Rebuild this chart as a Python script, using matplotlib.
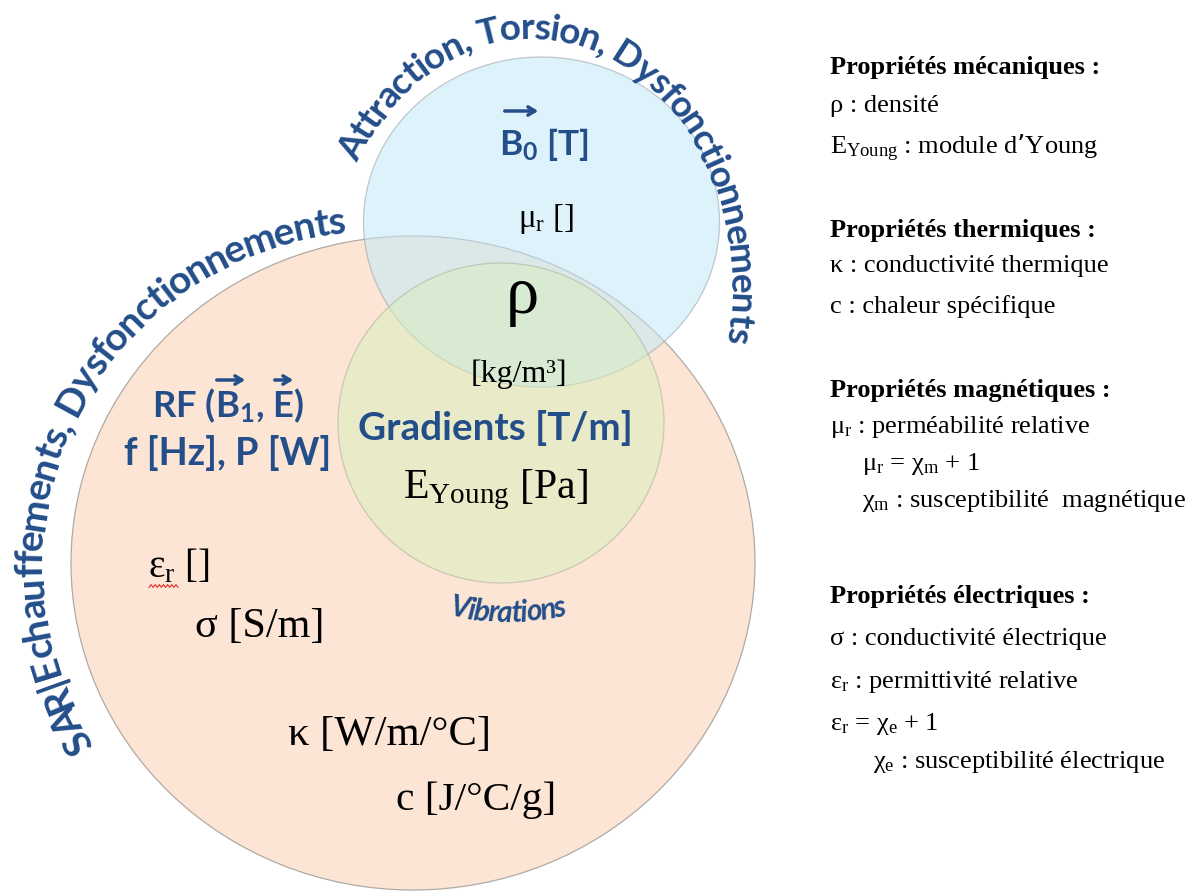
import numpy as np
import matplotlib.pyplot as plt
from matplotlib.patches import Ellipse
from matplotlib.font_manager import FontProperties

# --- texts -------------------------------------------------------------
arc_top = "Attraction, Torsion, Dysfonctionnements"
arc_left = "SAR|Echauffements, Dysfonctionnements"
arc_bottom = "Vibrations"

blue_labels = [r"$\mathregular{B_0}$ [T]", "Gradients [T/m]",
               r"RF ($\mathregular{B_1}$, E)", "f [Hz], P [W]"]
serif_labels = [r"$\mathregular{μ_r}$ []", "ρ", "[kg/m³]",
                r"$\mathregular{E_{Young}}$ [Pa]", r"$\mathregular{ε_r}$ []",
                "σ [S/m]", "κ [W/m/°C]", "c [J/°C/g]"]

legend_titles = ["Propriétés mécaniques :", "Propriétés thermiques :",
                 "Propriétés magnétiques :", "Propriétés électriques :"]
legend_lines = [
    ["ρ : densité", r"$\mathregular{E_{Young}}$ : module d’Young"],
    ["κ : conductivité thermique", "c : chaleur spécifique"],
    [r"$\mathregular{μ_r}$ : perméabilité relative",
     r"$\mathregular{μ_r}$ = $\mathregular{χ_m}$ + 1",
     r"$\mathregular{χ_m}$ : susceptibilité  magnétique"],
    ["σ : conductivité électrique", r"$\mathregular{ε_r}$ : permittivité relative",
     r"$\mathregular{ε_r}$ = $\mathregular{χ_e}$ + 1",
     r"$\mathregular{χ_e}$ : susceptibilité électrique"],
]

BLUE = '#234e8a'
SERIF = 'Liberation Serif'

fig = plt.figure(figsize=(11.92, 8.92), dpi=100)
ax = fig.add_axes([0, 0, 1, 1])
ax.set_xlim(0, 1192)
ax.set_ylim(892, 0)
ax.axis('off')
renderer = fig.canvas.get_renderer()

# circles
ax.add_patch(Ellipse((413, 563), 684, 654, facecolor='#fce5d4', edgecolor='#b0aaa4', lw=0.9))
ax.add_patch(Ellipse((541.5, 222), 356, 330, facecolor='#c2e9f8', alpha=0.55,
                     edgecolor='#95a0a4', lw=0.9))
ax.add_patch(Ellipse((501, 423), 326, 320, facecolor='#d6efbe', alpha=0.5,
                     edgecolor='#a4a894', lw=0.9))


def text_w(s, prop):
    return renderer.get_text_width_height_descent(s, prop, ismath=False)[0]


def arc_text(s, cx, cy, rx, ry, t0, t1, grow=1.0, **kw):
    prop = FontProperties(size=10, **kw)
    tt = np.radians(np.linspace(t0, t1, 3000))
    px = cx + rx * np.cos(tt)
    py = cy - ry * np.sin(tt)
    L = np.concatenate([[0], np.cumsum(np.hypot(np.diff(px), np.diff(py)))])
    size = 10 * L[-1] / text_w(s, prop)
    prop.set_size(size)
    draw = prop.copy()
    draw.set_size(size * grow)
    sgn = np.sign(t1 - t0)
    for i, c in enumerate(s):
        if c == ' ':
            continue
        d = text_w(s[:i + 1], prop) - text_w(c, prop) / 2
        t = np.interp(d, L, tt)
        dx = -rx * np.sin(t) * sgn
        dy = ry * np.cos(t) * sgn
        rot = np.degrees(np.arctan2(dy, dx))
        ax.text(cx + rx * np.cos(t), cy - ry * np.sin(t), c, fontproperties=draw,
                color=BLUE, ha='center', va='baseline', rotation=rot,
                rotation_mode='anchor')


def fit_text(x0, x1, y, s, grow=1.0, **kw):
    t = ax.text((x0 + x1) / 2, y, s, fontsize=20, ha='center', va='baseline', **kw)
    w = t.get_window_extent(renderer).width
    t.set_fontsize(20 * grow * (x1 - x0) / w)
    return t


# curved captions
arc_text(arc_top, 530, 290, 200, 251, 149.5, -12, grow=1.07, family='Lato', weight='bold')
arc_text(arc_left, 375, 565, 333, 333, 212.5, 95, grow=1.07, family='Lato', weight='bold')
arc_text(arc_bottom, 508, 362, 260, 260, -103, -77, grow=1.1, family='Lato',
         weight='bold', style='italic')

# blue labels
bkw = dict(family='Lato', fontweight='bold', color=BLUE)
fit_text(500, 587, 155, blue_labels[0], grow=1.04, **bkw)
fit_text(363, 627, 440, blue_labels[1], grow=1.04, **bkw)
fit_text(155, 302, 417, blue_labels[2], grow=1.04, **bkw)
fit_text(128, 327, 465, blue_labels[3], grow=1.04, **bkw)
akw = dict(arrowstyle='->,head_length=0.5,head_width=0.3', color=BLUE, lw=2.5)
ax.annotate('', xy=(541, 111), xytext=(502, 111), arrowprops=akw)
ax.annotate('', xy=(248, 380), xytext=(214, 380), arrowprops=akw)
ax.annotate('', xy=(296, 380), xytext=(272, 380), arrowprops=akw)

# serif labels
skw = dict(family=SERIF, color='black')
fit_text(520, 572, 227, serif_labels[0], grow=1.08, **skw)
ax.text(522, 313, serif_labels[1], fontsize=48, ha='center', va='baseline', **skw)
fit_text(473, 565, 382, serif_labels[2], grow=1.05, **skw)
fit_text(410, 582, 498, serif_labels[3], grow=1.08, **skw)
fit_text(150, 208, 577, serif_labels[4], grow=1.08, **skw)
fit_text(200, 320, 637, serif_labels[5], grow=1.08, **skw)
fit_text(295, 483, 745, serif_labels[6], grow=1.08, **skw)
fit_text(402, 550, 810, serif_labels[7], grow=1.08, **skw)

# spell-check squiggle under epsilon_r
zx = np.linspace(149, 178, 15)
ax.plot(zx, 586 + 1.4 * (-1) ** np.arange(15), color='#e03030', lw=0.8)

# legend block on the right
title_y = [74, 237, 397, 603]
line_y = [[112, 154], [272, 313], [433, 470, 507], [645, 688, 730, 768]]
line_x = [[830, 830], [830, 830], [830, 862, 862], [830, 830, 830, 873]]
for title, ty, lines, ly, lx in zip(legend_titles, title_y, legend_lines, line_y, line_x):
    ax.text(830, ty, title, fontsize=19, fontweight='bold', family=SERIF,
            ha='left', va='baseline')
    for s, y, x in zip(lines, ly, lx):
        ax.text(x, y, s, fontsize=19, family=SERIF, ha='left', va='baseline')

fig.savefig('out.png', dpi=100)
